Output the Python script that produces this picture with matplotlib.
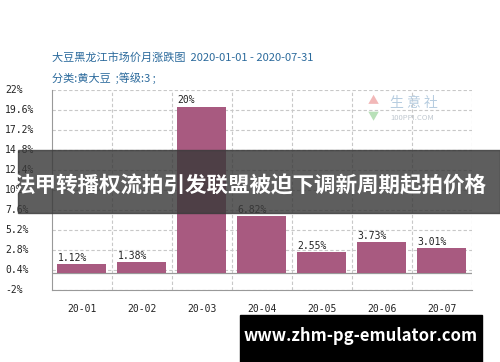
import numpy as np
import matplotlib.pyplot as plt
from matplotlib.patches import Rectangle

plt.rcParams['font.family'] = ['Noto Sans CJK SC', 'DejaVu Sans']

months = ["20-01", "20-02", "20-03", "20-04", "20-05", "20-06", "20-07"]
changes = [1.12, 1.38, 20, 6.82, 2.55, 3.73, 3.01]
labels = ["1.12%", "1.38%", "20%", "6.82%", "2.55%", "3.73%", "3.01%"]
yticks = [-2, 0.4, 2.8, 5.2, 7.6, 10, 12.4, 14.8, 17.2, 19.6, 22]

W, H = 500, 362
fig = plt.figure(figsize=(W / 100, H / 100), dpi=100)
ax = fig.add_axes([52 / W, 1 - 290 / H, 420 / W, 200 / H])

x = np.arange(len(months))
ax.bar(x - 0.41, changes, width=0.81, align='edge', color='#a85a80', zorder=3)
for xi, v, lab in zip(x, changes, labels):
    ax.text(xi - 0.41, v + 0.15, lab, fontsize=7, family='DejaVu Sans Mono',
            color='#222222', ha='left', va='bottom', zorder=4)

ax.set_xlim(-0.5, len(months) - 0.5)
ax.set_ylim(-2, 22)
ax.set_yticks(yticks)
ax.set_yticklabels([])
for t in yticks:
    ax.axhline(t, color='#c8c8c8', lw=0.8, ls=(0, (3, 2)), zorder=1)
for b in np.arange(0.5, len(months) - 0.5, 1):
    ax.axvline(b, color='#c8c8c8', lw=0.8, ls=(0, (3, 2)), zorder=1)
ax.axvline(len(months) - 0.5, color='#c8c8c8', lw=0.8, ls=(0, (3, 2)), zorder=1)
ax.axhline(0, color='#999999', lw=0.9, zorder=2)
ax.tick_params(length=0)
ax.set_xticks(x)
ax.set_xticklabels(months, fontsize=7, family='DejaVu Sans Mono', color='#222222')
ax.tick_params(axis='x', pad=10)
for s in ['top', 'right']:
    ax.spines[s].set_visible(False)
ax.spines['left'].set_color('#999999')
ax.spines['bottom'].set_color('#999999')

for t in yticks:
    y = 1 - (290 - (t + 2) / 24 * 200) / H
    fig.text(5 / W, y, '{:g}%'.format(t), fontsize=7, family='DejaVu Sans Mono',
             color='#222222', ha='left', va='center')

fig.text(52 / W, 1 - 57 / H, '大豆黑龙江市场价月涨跌图  2020-01-01 - 2020-07-31',
         fontsize=8, color='#2b6a9c', ha='left', va='center')
fig.text(52 / W, 1 - 78 / H, '分类:黄大豆  ;等级:3 ;',
         fontsize=8, color='#2b6a9c', ha='left', va='center')

# watermark
fig.text(373 / W, 1 - 101 / H, '▲', fontsize=8, color='#f2b8b8', ha='center', va='center')
fig.text(373 / W, 1 - 117 / H, '▼', fontsize=8, color='#b8e0b8', ha='center', va='center')
fig.text(390 / W, 1 - 103 / H, '生 意 社', fontsize=10, color='#b7cde0', ha='left', va='center')
fig.text(390 / W, 1 - 118 / H, '100PPI.COM', fontsize=5.5, color='#c0c8d0', ha='left', va='center')

# overlay banner
fig.patches.append(Rectangle((18 / W, 1 - 213 / H), 482 / W, 63 / H, transform=fig.transFigure,
                             color='#3a3a3a', alpha=0.82, zorder=10))
fig.text(250 / W, 1 - 186 / H, '法甲转播权流拍引发联盟被迫下调新周期起拍价格',
         fontsize=15.5, fontweight='bold', color='white', ha='center', va='center', zorder=11)

fig.patches.append(Rectangle((240 / W, 0), 242 / W, 47 / H, transform=fig.transFigure,
                             color='black', zorder=10))
fig.text(361 / W, 1 - 336 / H, 'www.zhm-pg-emulator.com', fontsize=12, fontweight='bold',
         color='white', ha='center', va='center', zorder=11)

fig.savefig('out.png', dpi=100)
